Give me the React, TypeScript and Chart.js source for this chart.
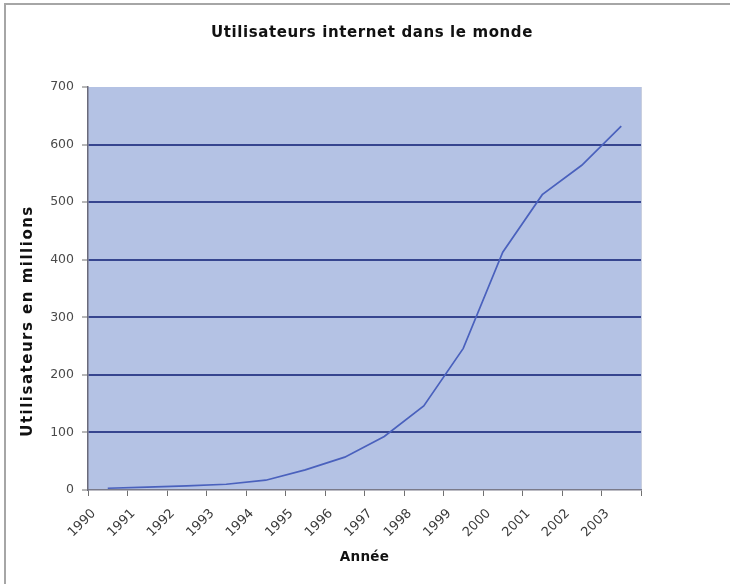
import React, { useEffect, useRef } from "react";
import { Chart, registerables } from "chart.js";

Chart.register(...registerables);

const titleText = "Utilisateurs internet dans le monde";
const yAxisTitle = "Utilisateurs en millions";
const xAxisTitle = "Année";
const years = ["1990", "1991", "1992", "1993", "1994", "1995", "1996", "1997", "1998", "1999", "2000", "2001", "2002", "2003"];
const users = [3, 5, 7, 10, 17, 35, 57, 93, 146, 246, 413, 513, 564, 632];
const yTicks = [0, 100, 200, 300, 400, 500, 600, 700];

const FONT = "'DejaVu Sans', Verdana, sans-serif";
const PLOT_BG = "#b4c2e4";
const GRID = "#36458f";

const framePlugin = {
  id: "frame",
  beforeDraw(chart: any) {
    const { ctx, chartArea } = chart;
    ctx.save();
    ctx.fillStyle = "#ffffff";
    ctx.fillRect(0, 0, chart.width, chart.height);
    ctx.strokeStyle = "#a6a6a6";
    ctx.lineWidth = 2;
    ctx.beginPath();
    ctx.moveTo(5, chart.height);
    ctx.lineTo(5, 4);
    ctx.lineTo(chart.width, 4);
    ctx.stroke();
    ctx.fillStyle = PLOT_BG;
    ctx.fillRect(chartArea.left, chartArea.top, chartArea.right - chartArea.left, chartArea.bottom - chartArea.top);
    ctx.strokeStyle = "#c9cfdf";
    ctx.lineWidth = 1;
    ctx.beginPath();
    ctx.moveTo(chartArea.right + 0.5, chartArea.top);
    ctx.lineTo(chartArea.right + 0.5, chartArea.bottom);
    ctx.stroke();
    ctx.restore();
  },
  afterDraw(chart: any) {
    const { ctx, chartArea } = chart;
    ctx.save();
    ctx.fillStyle = "#111111";
    ctx.textAlign = "center";
    ctx.textBaseline = "middle";
    ctx.font = `bold 15px ${FONT}`;
    (ctx as any).letterSpacing = "0.6px";
    ctx.fillText(titleText, 372, 33);
    ctx.font = `bold 13.5px ${FONT}`;
    (ctx as any).letterSpacing = "0.3px";
    ctx.fillText(xAxisTitle, (chartArea.left + chartArea.right) / 2, 557);
    ctx.font = `bold 15px ${FONT}`;
    (ctx as any).letterSpacing = "1.5px";
    ctx.translate(28, 321);
    ctx.rotate(-Math.PI / 2);
    ctx.fillText(yAxisTitle, 0, 0);
    ctx.restore();
  },
};

export default function App() {
  const ref = useRef<HTMLCanvasElement>(null);
  useEffect(() => {
    if (!ref.current) return;
    const chart = new Chart(ref.current, {
      type: "line",
      data: {
        labels: years,
        datasets: [
          {
            data: users,
            borderColor: "#4a61bd",
            borderWidth: 1.7,
            pointRadius: 0,
            tension: 0,
            fill: false,
          },
        ],
      },
      options: {
        animation: false,
        responsive: false,
        devicePixelRatio: 1,
        layout: { padding: { left: 0, right: 89, top: 87, bottom: 0 } },
        plugins: {
          legend: { display: false },
          tooltip: { enabled: false },
          title: { display: false },
        },
        scales: {
          x: {
            type: "category",
            offset: true,
            grid: {
              offset: true,
              drawOnChartArea: false,
              drawTicks: true,
              tickLength: 6,
              tickColor: "#707070",
            },
            border: { display: true, color: "#7a7a8a", width: 1.5 },
            ticks: {
              autoSkip: false,
              minRotation: 45,
              maxRotation: 45,
              labelOffset: -14,
              padding: 10,
              color: "#3a3a3a",
              font: { family: FONT, size: 13 },
            },
            afterFit(scale: any) {
              scale.height = 94;
            },
          },
          y: {
            min: 0,
            max: 700,
            afterBuildTicks(scale: any) {
              scale.ticks = yTicks.map((v) => ({ value: v }));
            },
            grid: {
              color: (c: any) => (c.tick && (c.tick.value === 0 || c.tick.value === 700) ? "rgba(0,0,0,0)" : GRID),
              lineWidth: 2,
              tickLength: 6,
              tickColor: "#707070",
              tickWidth: 1,
            },
            border: { display: true, color: "#6a6a7a", width: 1.5 },
            ticks: {
              padding: 8,
              color: "#4a4a4a",
              font: { family: FONT, size: 12.5 },
            },
            afterFit(scale: any) {
              scale.width = 88;
            },
          },
        },
      },
      plugins: [framePlugin],
    });
    return () => chart.destroy();
  }, []);
  return (
    <div style={{ position: "absolute", left: 0, top: 0, width: 730, height: 584 }}>
      <canvas ref={ref} width={730} height={584} />
    </div>
  );
}
